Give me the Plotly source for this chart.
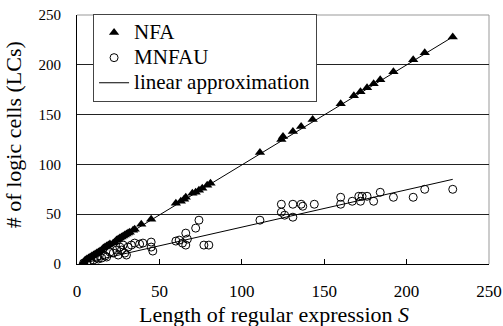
import plotly.graph_objects as go

# NFA data (length of regular expression, # of LCs)
nfa_x = [4, 5, 6, 7, 8, 9, 10, 11, 12, 13, 14, 15, 16, 17, 18, 19, 20, 22, 23, 24, 25, 26, 27, 28, 29, 30,
         31, 32, 34, 35, 39, 45, 60, 63, 65, 66, 70, 72, 74, 76, 79, 81, 111, 124, 125, 131, 136, 143,
         160, 168, 172, 176, 180, 184, 192, 204, 211, 228]
nfa_y = [2, 4, 5, 6, 7, 8, 9, 10, 11, 12, 13, 14, 16, 17, 18, 19, 20, 21, 22, 24, 25, 26, 27, 28, 29, 30,
         31, 32, 34, 35, 40, 45, 61, 63, 65, 67, 71, 72, 74, 76, 79, 81, 112, 125, 128, 133, 138, 145,
         161, 169, 173, 177, 181, 185, 193, 205, 212, 228]

# MNFAU data
mnfau_x = [4, 6, 8, 10, 12, 13, 15, 17, 18, 20, 22, 24, 25, 26, 27, 28, 29, 30, 31, 33, 35, 38, 40, 45,
           45, 46, 60, 62, 64, 66, 67, 66, 72, 74, 77, 80, 111, 124, 124, 126, 131, 131, 136, 137, 144,
           160, 160, 167, 171, 172, 173, 176, 180, 184, 192, 204, 211, 228]
mnfau_y = [1, 2, 3, 4, 6, 5, 6, 8, 7, 12, 11, 14, 9, 17, 14, 19, 11, 9, 17, 19, 21, 20, 21, 22,
           17, 13, 23, 24, 21, 19, 25, 31, 36, 44, 19, 19, 44, 60, 52, 49, 60, 47, 60, 58, 60,
           67, 60, 63, 68, 63, 68, 68, 63, 72, 67, 67, 75, 75]

# Linear approximation endpoints
nfa_fit_x = [4, 228]
nfa_fit_y = [3, 228]
mnfau_fit_x = [4, 228]
mnfau_fit_y = [1, 85]

x_ticks = [0, 50, 100, 150, 200, 250]
y_ticks = [0, 50, 100, 150, 200, 250]

FONT = "Liberation Serif"


def big(s):
    return '<span style="font-size:21px">' + s + "</span>"


fig = go.Figure()
fig.add_trace(go.Scatter(
    x=nfa_x, y=nfa_y, mode="markers", name=big("NFA"),
    marker=dict(symbol="triangle-up", size=9, color="black"),
))
fig.add_trace(go.Scatter(
    x=mnfau_x, y=mnfau_y, mode="markers", name=big("MNFAU"),
    marker=dict(symbol="circle-open", size=8, color="black", line=dict(width=1, color="black")),
))
fig.add_trace(go.Scatter(
    x=nfa_fit_x + [None] + mnfau_fit_x,
    y=nfa_fit_y + [None] + mnfau_fit_y,
    mode="lines", name=big("linear approximation"),
    line=dict(color="black", width=1),
))

fig.update_layout(
    width=503, height=326,
    margin=dict(l=77, r=14, t=15, b=62, autoexpand=False),
    paper_bgcolor="white", plot_bgcolor="white",
    font=dict(family=FONT, color="black", size=15),
    showlegend=True,
    legend=dict(
        x=0.039, y=1.004, xanchor="left", yanchor="top",
        bgcolor="white", bordercolor="#444", borderwidth=1,
        font=dict(family=FONT, size=17, color="black"),
        tracegroupgap=0, itemwidth=30,
    ),
    xaxis=dict(
        range=[0, 250], tickvals=x_ticks, ticks="inside", ticklen=5, tickcolor="black",
        showline=True, linecolor="black", linewidth=1, showgrid=False, zeroline=False,
        automargin=False, ticklabelstandoff=12,
        tickfont=dict(family=FONT, size=17, color="black"),
    ),
    yaxis=dict(
        range=[0, 250], tickvals=y_ticks, ticks="", tickcolor="black",
        showline=True, linecolor="black", linewidth=1, showgrid=True, gridcolor="#222",
        gridwidth=1, zeroline=False, automargin=False, ticklabelstandoff=12,
        tickfont=dict(family=FONT, size=15, color="black"),
    ),
    annotations=[
        dict(text="Length of regular expression <i>S</i>", xref="paper", yref="paper",
             x=0.477, y=-0.1446, xanchor="center", yanchor="top", showarrow=False,
             font=dict(family=FONT, size=22, color="black")),
        dict(text="# of logic cells (LCs)", xref="paper", yref="paper",
             x=-0.155, y=0.518, xanchor="center", yanchor="middle", showarrow=False,
             textangle=-90, font=dict(family=FONT, size=22, color="black")),
    ],
)

# gray top and right border of plot area
fig.add_shape(type="line", xref="paper", yref="paper", x0=0, x1=1, y0=1, y1=1,
              line=dict(color="#999", width=1), layer="below")
fig.add_shape(type="line", xref="paper", yref="paper", x0=1, x1=1, y0=0, y1=1,
              line=dict(color="#999", width=1), layer="below")

fig.write_html("out.html", config={"displayModeBar": False},
               post_script="document.body.style.margin='0px';document.body.style.overflow='hidden';")
